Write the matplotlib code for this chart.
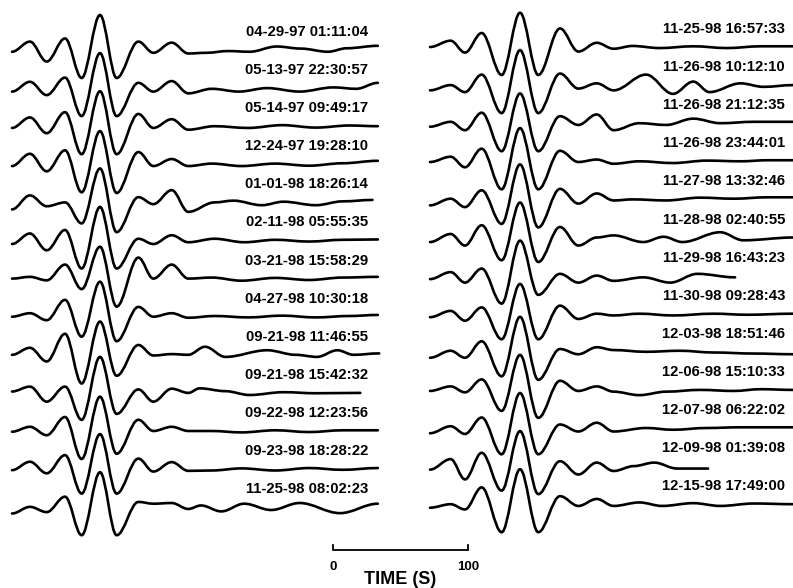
import matplotlib
matplotlib.use("Agg")
import matplotlib.pyplot as plt
from matplotlib.path import Path
from matplotlib.patches import PathPatch

# ---------------- data ----------------
LEFT_LABELS = ["04-29-97 01:11:04", "05-13-97 22:30:57", "05-14-97 09:49:17",
               "12-24-97 19:28:10", "01-01-98 18:26:14", "02-11-98 05:55:35",
               "03-21-98 15:58:29", "04-27-98 10:30:18", "09-21-98 11:46:55",
               "09-21-98 15:42:32", "09-22-98 12:23:56", "09-23-98 18:28:22",
               "11-25-98 08:02:23"]
RIGHT_LABELS = ["11-25-98 16:57:33", "11-26-98 10:12:10", "11-26-98 21:12:35",
                "11-26-98 23:44:01", "11-27-98 13:32:46", "11-28-98 02:40:55",
                "11-29-98 16:43:23", "11-30-98 09:28:43", "12-03-98 18:51:46",
                "12-06-98 15:10:33", "12-07-98 06:22:02", "12-09-98 01:39:08",
                "12-15-98 17:49:00"]

# times (s) of the turning points of the main arrival
ONSET_T_LEFT = [0, 13.3, 25.7, 39.3, 51.6, 65.2, 77.5, 93.6, 104.7, 118.3, 130.6]
ONSET_T_RIGHT = [0, 15.3, 25.9, 38.3, 53.1, 66.7, 80.2, 96.3, 109.9, 123.5, 136.0]

# amplitudes at those turning points (main peak ~ 1)
ONSET_A_LEFT = [
    [-0.05, 0.24, -0.33, 0.33, -0.80, 1.00, -0.80, 0.24, -0.08, 0.21, -0.10],
    [-0.10, 0.18, -0.20, 0.30, -0.80, 1.00, -0.80, 0.15, -0.10, 0.20, -0.15],
    [-0.05, 0.25, -0.20, 0.40, -0.80, 1.00, -0.80, 0.35, -0.05, 0.20, -0.10],
    [-0.05, 0.30, -0.20, 0.40, -0.80, 0.95, -0.82, 0.35, -0.05, 0.15, -0.05],
    [-0.20, 0.20, -0.11, 0.00, -0.60, 0.97, -0.85, 0.15, -0.05, 0.35, -0.27],
    [-0.10, 0.20, -0.28, 0.30, -0.80, 0.96, -0.80, 0.05, -0.10, 0.15, -0.05],
    [0.00, 0.05, -0.05, 0.40, -0.30, 0.91, -0.80, 0.60, 0.00, 0.40, 0.00],
    [0.00, 0.10, -0.10, 0.48, -0.57, 1.00, -0.70, 0.28, 0.00, 0.10, -0.03],
    [0.00, 0.20, -0.19, 0.60, -0.82, 0.95, -0.60, 0.28, -0.02, 0.02, 0.00],
    [0.04, 0.18, -0.25, 0.18, -0.77, 1.03, -0.60, 0.10, -0.25, 0.12, 0.00],
    [-0.02, 0.12, -0.12, 0.40, -0.80, 0.98, -0.65, 0.32, 0.00, 0.12, 0.00],
    [-0.03, 0.21, -0.12, 0.40, -0.70, 1.00, -0.70, 0.30, -0.07, 0.20, -0.05],
    [-0.18, 0.01, -0.14, 0.30, -0.80, 1.00, -0.80, 0.15, 0.10, 0.12, -0.05],
]
ONSET_A_RIGHT = [
    [0.00, 0.18, -0.16, 0.40, -0.80, 0.98, -0.80, 0.53, -0.13, 0.12, -0.05],
    [-0.15, 0.00, -0.20, 0.30, -0.80, 1.00, -0.80, 0.33, -0.10, 0.05, -0.15],
    [-0.10, 0.04, -0.20, 0.30, -0.80, 0.85, -0.80, 0.20, -0.05, 0.25, -0.20],
    [-0.02, 0.13, -0.17, 0.36, -0.80, 0.95, -0.80, 0.30, -0.02, 0.05, -0.07],
    [-0.17, 0.02, -0.22, 0.26, -0.70, 1.00, -0.80, 0.30, -0.12, 0.17, -0.03],
    [-0.13, 0.10, -0.23, 0.35, -0.65, 1.00, -0.70, 0.30, -0.23, 0.00, 0.06],
    [-0.10, 0.10, -0.20, 0.20, -0.80, 1.00, -0.55, 0.05, -0.20, 0.00, -0.15],
    [-0.10, 0.08, -0.20, 0.18, -0.73, 0.85, -0.73, 0.23, -0.15, 0.00, -0.05],
    [-0.17, 0.03, -0.17, 0.30, -0.70, 1.00, -0.80, 0.08, -0.07, 0.13, 0.05],
    [-0.03, 0.10, -0.07, 0.30, -0.60, 1.00, -0.80, 0.26, -0.03, 0.10, -0.05],
    [-0.15, 0.05, -0.17, 0.30, -0.75, 1.00, -0.75, 0.10, -0.10, 0.15, -0.10],
    [-0.10, 0.20, -0.38, 0.38, -0.70, 1.00, -0.80, 0.14, -0.24, 0.10, -0.14],
    [-0.10, 0.00, -0.15, 0.48, -0.80, 1.00, -0.80, 0.23, -0.05, 0.15, -0.05],
]

# coda turning points (time s, amplitude) for each trace
TAIL_T_LEFT = [
    [144, 160, 176, 196, 214, 234, 248, 271],
    [148, 168, 189, 213, 238, 255, 271],
    [150, 175, 200, 225, 250, 271],
    [148, 170, 195, 220, 245, 271],
    [150, 164, 185, 201, 225, 245, 267],
    [150, 172, 195, 220, 245, 271],
    [148, 170, 195, 220, 245, 271],
    [150, 175, 200, 225, 250, 271],
    [143, 158, 189, 210, 226, 241, 253, 272],
    [139, 158, 176, 201, 225, 258],
    [148, 170, 195, 220, 245, 271],
    [148, 170, 195, 220, 245, 271],
    [140, 155, 172, 192, 213, 243, 271],
]
TAIL_A_LEFT = [
    [-0.08, -0.03, -0.05, 0.10, 0.04, -0.05, 0.05, 0.12],
    [-0.02, -0.10, 0.00, -0.10, 0.02, -0.02, 0.15],
    [0.00, -0.05, 0.03, -0.04, 0.02, 0.00],
    [0.02, -0.05, 0.02, -0.04, 0.03, 0.10],
    [0.00, 0.05, -0.08, 0.02, -0.08, 0.03, 0.07],
    [0.05, -0.05, 0.02, -0.03, 0.02, 0.03],
    [0.03, -0.06, 0.02, -0.04, 0.03, 0.05],
    [0.02, -0.02, 0.03, -0.02, 0.02, 0.05],
    [0.23, -0.06, 0.13, 0.00, -0.06, 0.13, 0.00, 0.04],
    [0.13, 0.05, -0.06, 0.02, -0.01, 0.00],
    [0.00, -0.04, 0.02, -0.03, 0.02, 0.02],
    [-0.04, 0.02, -0.04, 0.03, -0.02, 0.03],
    [0.05, -0.12, 0.10, -0.08, 0.12, -0.17, 0.10],
]
TAIL_T_RIGHT = [
    [150, 170, 195, 220, 245, 269],
    [160, 180, 195, 207, 230, 247, 269],
    [155, 175, 195, 215, 240, 269],
    [155, 180, 205, 230, 250, 269],
    [150, 175, 200, 225, 250, 269],
    [158, 173, 187, 215, 232, 269],
    [158, 178, 198, 226],
    [155, 180, 210, 235, 269],
    [160, 185, 210, 240, 269],
    [155, 175, 200, 225, 245, 269],
    [160, 180, 205, 230, 269],
    [151, 166, 183, 206],
    [155, 172, 195, 215, 240, 269],
]
TAIL_A_RIGHT = [
    [0.03, -0.03, 0.02, -0.03, 0.02, 0.02],
    [0.30, -0.25, 0.10, -0.20, 0.05, -0.05, 0.00],
    [0.00, -0.05, 0.13, 0.00, 0.04, 0.04],
    [0.00, -0.05, 0.02, 0.00, 0.03, 0.03],
    [0.00, -0.03, 0.05, 0.02, 0.06, 0.06],
    [-0.13, 0.02, -0.13, 0.15, -0.08, 0.00],
    [-0.05, -0.20, 0.05, -0.05],
    [0.00, -0.05, 0.00, -0.03, 0.00],
    [0.00, 0.03, -0.02, -0.05, -0.07],
    [-0.15, -0.05, 0.00, -0.03, 0.02, 0.00],
    [0.00, -0.05, 0.00, 0.02, 0.02],
    [0.00, 0.10, -0.07, -0.07],
    [0.05, -0.05, 0.03, -0.05, 0.02, 0.00],
]

SCALE_LEN = 100          # seconds
SCALE_LABELS = ["0", "100"]
AXIS_TITLE = "TIME (S)"

# ---------------- layout ----------------
W, H = 793, 588
PX_PER_S = 1.35
PX_PER_AMP = 35.0
SPACING = 38.1 / PX_PER_AMP
X0_PX, Y0_PX = 12, 50
RIGHT_T0 = (430 - X0_PX) / PX_PER_S
RIGHT_DY = 3 / PX_PER_AMP
LABEL_DY = 18 / PX_PER_AMP
LEFT_LABEL_T = (368 - X0_PX) / PX_PER_S
RIGHT_LABEL_T = RIGHT_T0 + (785 - 430) / PX_PER_S
SCALE_T0 = (333 - X0_PX) / PX_PER_S

fig = plt.figure(figsize=(W / 100, H / 100), dpi=100)
ax = fig.add_axes([0, 0, 1, 1])
ax.set_xlim(-X0_PX / PX_PER_S, (W - X0_PX) / PX_PER_S)
ax.set_ylim((Y0_PX - H) / PX_PER_AMP, Y0_PX / PX_PER_AMP)
ax.axis("off")

FONT = ["Liberation Sans", "DejaVu Sans"]
LW = 1.9
LABEL_FS = 10.7


def draw_trace(t_pts, a_pts, t_off, base):
    verts = [(t_off + t_pts[0], base + a_pts[0])]
    codes = [Path.MOVETO]
    for i in range(1, len(t_pts)):
        ta, aa = t_pts[i - 1], a_pts[i - 1]
        tb, ab = t_pts[i], a_pts[i]
        d = (tb - ta) * 0.36
        verts += [(t_off + ta + d, base + aa), (t_off + tb - d, base + ab),
                  (t_off + tb, base + ab)]
        codes += [Path.CURVE4] * 3
    patch = PathPatch(Path(verts, codes), facecolor="none", edgecolor="black",
                      linewidth=LW, capstyle="round", joinstyle="round")
    ax.add_patch(patch)


for k in range(len(LEFT_LABELS)):
    base = -k * SPACING
    draw_trace(ONSET_T_LEFT + TAIL_T_LEFT[k], ONSET_A_LEFT[k] + TAIL_A_LEFT[k], 0, base)
    ax.text(LEFT_LABEL_T, base + LABEL_DY, LEFT_LABELS[k], ha="right", va="center",
            fontsize=LABEL_FS, fontweight="bold", family=FONT)

for k in range(len(RIGHT_LABELS)):
    base = -k * SPACING + RIGHT_DY
    draw_trace(ONSET_T_RIGHT + TAIL_T_RIGHT[k], ONSET_A_RIGHT[k] + TAIL_A_RIGHT[k],
               RIGHT_T0, base)
    ax.text(RIGHT_LABEL_T, base + LABEL_DY, RIGHT_LABELS[k], ha="right", va="center",
            fontsize=LABEL_FS, fontweight="bold", family=FONT)

# scale bar
yb = (Y0_PX - 550) / PX_PER_AMP
tick = 5 / PX_PER_AMP
ax.plot([SCALE_T0, SCALE_T0, SCALE_T0 + SCALE_LEN, SCALE_T0 + SCALE_LEN],
        [yb + tick, yb, yb, yb + tick], color="black", linewidth=1.3,
        solid_joinstyle="miter")
ylab = (Y0_PX - 567) / PX_PER_AMP
ax.text(SCALE_T0, ylab, SCALE_LABELS[0], ha="center", va="center",
        fontsize=9.5, fontweight="bold", family=FONT)
ax.text(SCALE_T0 + SCALE_LEN, ylab, SCALE_LABELS[1], ha="center", va="center",
        fontsize=9.5, fontweight="bold", family=FONT)
ax.text(SCALE_T0 + SCALE_LEN / 2, (Y0_PX - 580) / PX_PER_AMP, AXIS_TITLE,
        ha="center", va="center", fontsize=13, fontweight="bold", family=FONT)

fig.savefig("out.png", dpi=100, facecolor="white")
